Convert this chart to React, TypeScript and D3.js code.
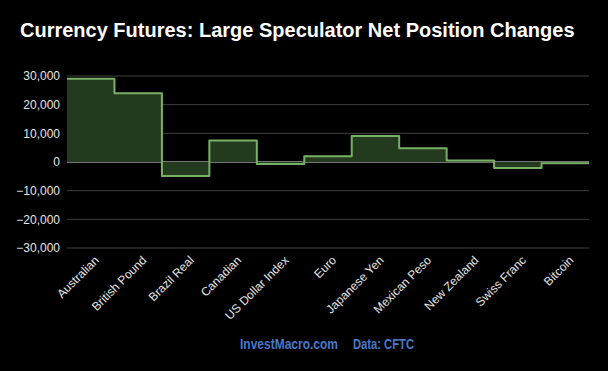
import { useEffect, useRef } from "react";
import * as d3 from "d3";

const categories = [
    'Australian', 'British Pound', 'Brazil Real', 'Canadian', 'US Dollar Index', 'Euro',
    'Japanese Yen', 'Mexican Peso', 'New Zealand', 'Swiss Franc', 'Bitcoin',
];
const netChanges = [29000, 24000, -4900, 7500, -700, 2000, 9100, 4800, 500, -2100, -400];
const yTicks = [-30000, -20000, -10000, 0, 10000, 20000, 30000];

const wSVG = 608;
const hSVG = 371;
const margin = { top: 76, right: 19, bottom: 123, left: 67 };

export default function App() {
    const svgRef = useRef<SVGSVGElement | null>(null);

    useEffect(() => {
        const svg = d3.select(svgRef.current);
        svg.selectAll('*').remove();

        const wG = wSVG - margin.left - margin.right;
        const hG = hSVG - margin.top - margin.bottom;

        svg.append('rect')
            .attr('width', wSVG)
            .attr('height', hSVG)
            .attr('fill', '#000');

        const xScale = d3.scaleBand()
            .domain(categories)
            .range([0, wG]);
        const yScale = d3.scaleLinear()
            .domain([-30000, 30000])
            .range([hG, 0]);

        const g = svg.append('g')
            .attr('transform', `translate(${margin.left}, ${margin.top})`);

        // grid
        g.selectAll('.grid')
            .data(yTicks)
            .join('line')
            .attr('x1', 0)
            .attr('x2', wG)
            .attr('y1', d => yScale(d))
            .attr('y2', d => yScale(d))
            .attr('stroke', d => d === 0 ? '#e8e8e8' : '#404040')
            .attr('stroke-width', 1);

        // y labels
        g.selectAll('.ylab')
            .data(yTicks)
            .join('text')
            .attr('x', -7)
            .attr('y', d => yScale(d))
            .attr('dy', '0.35em')
            .attr('text-anchor', 'end')
            .attr('fill', '#e6e6e6')
            .style('font-family', 'Liberation Sans, Arial, sans-serif')
            .style('font-size', '12px')
            .text(d => d3.format(',')(d));

        // step points: start of each band, plus end of last band
        const pts: [number, number][] = categories.map((c, i) => [xScale(c) as number, netChanges[i]]);
        pts.push([wG, netChanges[netChanges.length - 1]]);

        const area = d3.area<[number, number]>()
            .x(d => d[0])
            .y0(yScale(0))
            .y1(d => yScale(d[1]))
            .curve(d3.curveStepAfter);
        const line = d3.line<[number, number]>()
            .x(d => d[0])
            .y(d => yScale(d[1]))
            .curve(d3.curveStepAfter);

        g.append('path')
            .datum(pts)
            .attr('fill', '#243a1e')
            .attr('d', area);

        g.append('path')
            .datum(pts)
            .attr('fill', 'none')
            .attr('stroke', '#78b166')
            .attr('stroke-width', 2)
            .attr('stroke-linejoin', 'round')
            .attr('d', line);

        // x labels
        g.selectAll('.xlab')
            .data(categories)
            .join('text')
            .attr('transform', d => `translate(${(xScale(d) as number) + xScale.bandwidth() / 2 + 6}, ${hG + 10}) rotate(-45)`)
            .attr('text-anchor', 'end')
            .attr('dy', '0.35em')
            .attr('fill', '#e6e6e6')
            .style('font-family', 'Liberation Sans, Arial, sans-serif')
            .style('font-size', '12px')
            .text(d => d);

        svg.append('text')
            .attr('x', 20)
            .attr('y', 37)
            .attr('fill', '#fff')
            .style('font-family', 'Liberation Sans, Arial, sans-serif')
            .style('font-size', '20px')
            .style('font-weight', 'bold')
            .text('Currency Futures: Large Speculator Net Position Changes');

        const footer = svg.append('g')
            .style('font-family', 'Liberation Sans Narrow, Arial Narrow, Liberation Sans, sans-serif')
            .style('font-size', '14px')
            .style('font-weight', 'bold')
            .attr('fill', '#4a78c8');
        footer.append('text').attr('x', 240).attr('y', 349)
            .attr('textLength', 98).attr('lengthAdjust', 'spacingAndGlyphs')
            .text('InvestMacro.com');
        footer.append('text').attr('x', 353).attr('y', 349)
            .attr('textLength', 61).attr('lengthAdjust', 'spacingAndGlyphs')
            .text('Data: CFTC');
    }, []);

    return (
        <svg ref={svgRef} width={wSVG} height={hSVG}
            style={{ position: 'absolute', left: 0, top: 0, display: 'block' }} />
    );
}
